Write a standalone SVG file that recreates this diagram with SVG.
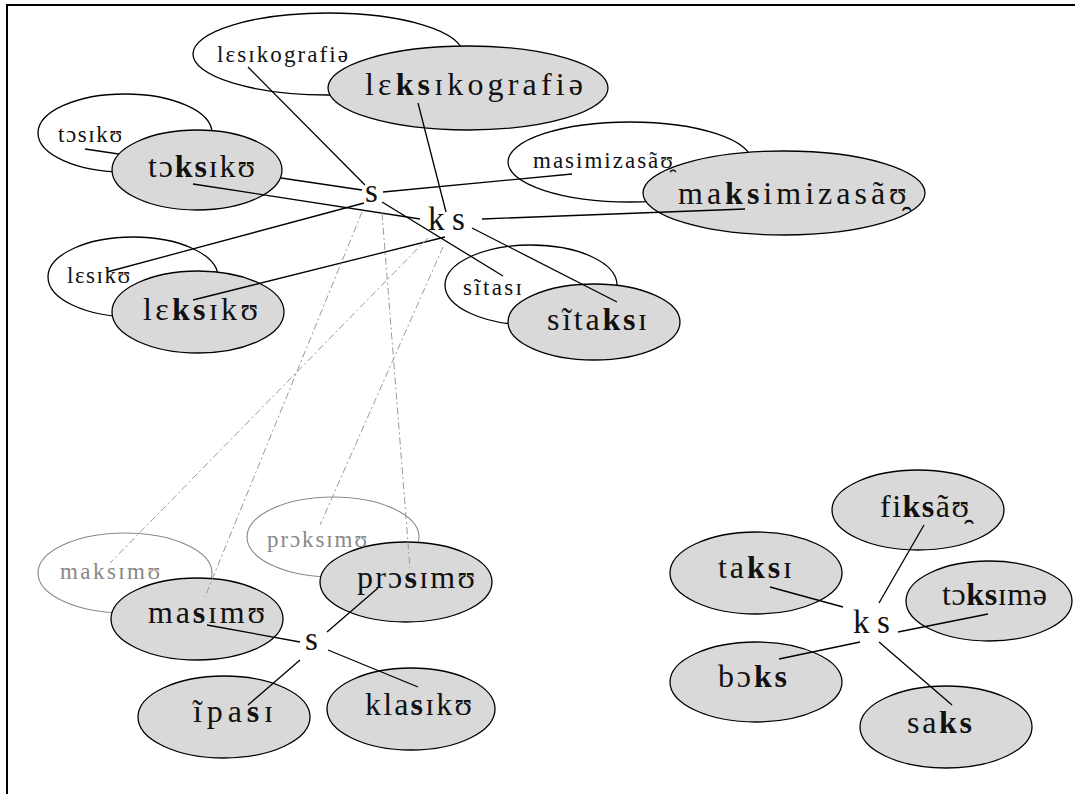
<svg xmlns="http://www.w3.org/2000/svg" width="1075" height="794" viewBox="0 0 1075 794">
  <style>
    text { font-family: "Liberation Serif", "DejaVu Serif", serif; fill: #111; }
    .g { fill: #d9d9d9; stroke: #000; stroke-width: 1.3; }
    .w { fill: #fff; stroke: #000; stroke-width: 1.3; }
    .wg { fill: #fff; stroke: #8a8a8a; stroke-width: 1.1; }
    .big { font-size: 32px; }
    .small { font-size: 23px; }
    .faint { fill: #888; }
    .hub { font-size: 33px; }
    .b { font-weight: bold; }
    .ln { stroke: #000; stroke-width: 1.3; fill: none; }
    .dash { stroke: #999; stroke-width: 1; stroke-dasharray: 7 3 2 3; fill: none; }
    .frame { stroke: #000; stroke-width: 2; fill: none; }
  </style>

  <!-- frame -->
  <path class="frame" d="M7 794 V5 H1075"/>

  <!-- secondary forms (white ellipses) -->
  <g id="n-lesikografie"><ellipse class="w" cx="328" cy="54" rx="135" ry="41"/></g>
  <g id="n-tosiku"><ellipse class="w" cx="125" cy="133" rx="87" ry="39"/></g>
  <g id="n-masimizasau"><ellipse class="w" cx="630" cy="162" rx="122" ry="40"/></g>
  <g id="n-lesiku"><ellipse class="w" cx="133" cy="277" rx="85" ry="40"/></g>
  <g id="n-sitasi"><ellipse class="w" cx="531" cy="285" rx="86" ry="40"/></g>
  <g id="n-maksimu"><ellipse class="wg" cx="125" cy="573" rx="87" ry="40"/></g>
  <g id="n-proksimu"><ellipse class="wg" cx="333" cy="537" rx="86" ry="40"/></g>

  <!-- links from the simplified forms, passing behind the full forms -->
  <g id="connectors-back">
    <line class="ln" x1="248" y1="67" x2="365" y2="185"/>
    <line class="ln" x1="85" y1="149" x2="362" y2="190"/>
    <line class="ln" x1="383" y1="192" x2="572" y2="174"/>
    <line class="ln" x1="107" y1="272" x2="364" y2="203"/>
    <line class="ln" x1="382" y1="202" x2="503" y2="276"/>
  </g>

  <!-- full forms (grey ellipses) -->
  <g id="n-leksikografie"><ellipse class="g" cx="468" cy="88" rx="140" ry="42"/></g>
  <g id="n-toksiku"><ellipse class="g" cx="197" cy="170" rx="85" ry="40"/></g>
  <g id="n-maksimizasau"><ellipse class="g" cx="784" cy="193" rx="141" ry="42"/></g>
  <g id="n-leksiku"><ellipse class="g" cx="198" cy="312" rx="86" ry="41"/></g>
  <g id="n-sitaksi"><ellipse class="g" cx="594" cy="322" rx="86" ry="38"/></g>
  <g id="n-prosimu"><ellipse class="g" cx="406" cy="582" rx="86" ry="40"/></g>
  <g id="n-masimu"><ellipse class="g" cx="197" cy="619" rx="86" ry="41"/></g>
  <g id="n-ipasi"><ellipse class="g" cx="224" cy="717" rx="86" ry="41"/></g>
  <g id="n-klasiku"><ellipse class="g" cx="411" cy="709" rx="84" ry="41"/></g>
  <g id="n-fiksau"><ellipse class="g" cx="918" cy="510" rx="86" ry="40"/></g>
  <g id="n-taksi"><ellipse class="g" cx="756" cy="573" rx="86" ry="41"/></g>
  <g id="n-toksime"><ellipse class="g" cx="989" cy="601" rx="83" ry="40"/></g>
  <g id="n-boks"><ellipse class="g" cx="756" cy="682" rx="86" ry="40"/></g>
  <g id="n-saks"><ellipse class="g" cx="946" cy="727" rx="86" ry="41"/></g>

  <g id="connectors">
    <!-- upper cluster -->
    <line class="ln" x1="418" y1="103" x2="446" y2="212"/>
    <line class="ln" x1="193" y1="184" x2="420" y2="219"/>
    <line class="ln" x1="482" y1="219" x2="745" y2="209"/>
    <line class="ln" x1="193" y1="300" x2="445" y2="237"/>
    <line class="ln" x1="472" y1="228" x2="617" y2="302"/>
    <!-- lower left cluster -->
    <line class="ln" x1="207" y1="625" x2="300" y2="642"/>
    <line class="ln" x1="327" y1="632" x2="378" y2="588"/>
    <line class="ln" x1="300" y1="660" x2="248" y2="705"/>
    <line class="ln" x1="328" y1="650" x2="418" y2="687"/>
    <!-- lower right cluster -->
    <line class="ln" x1="770" y1="587" x2="843" y2="607"/>
    <line class="ln" x1="924" y1="525" x2="879" y2="603"/>
    <line class="ln" x1="988" y1="614" x2="898" y2="632"/>
    <line class="ln" x1="779" y1="659" x2="860" y2="642"/>
    <line class="ln" x1="952" y1="705" x2="879" y2="642"/>
    <!-- dash-dot links between clusters -->
    <line class="dash" x1="428" y1="238" x2="110" y2="563"/>
    <line class="dash" x1="362" y1="212" x2="205" y2="597"/>
    <line class="dash" x1="382" y1="213" x2="410" y2="568"/>
    <line class="dash" x1="443" y1="247" x2="320" y2="525"/>
  </g>

  <!-- hubs -->
  <g id="hub-s-top"><text class="hub" x="365" y="202">s</text></g>
  <g id="hub-ks-top"><text class="hub" x="428" y="230">k<tspan x="452">s</tspan></text></g>
  <g id="hub-s-low"><text class="hub" x="305" y="650">s</text></g>
  <g id="hub-ks-right"><text class="hub" x="853" y="633">k<tspan x="877">s</tspan></text></g>

  <!-- labels -->
  <g id="labels">
    <text class="small" x="217" y="62" textLength="131" lengthAdjust="spacing">lɛsɪkografiə</text>
    <text class="big" x="365" y="95" textLength="218" lengthAdjust="spacing">lɛ<tspan class="b">ks</tspan>ɪkografiə</text>
    <text class="small" x="58" y="142" textLength="64" lengthAdjust="spacing">tɔsɪkʊ</text>
    <text class="big" x="148" y="177" textLength="107" lengthAdjust="spacing">tɔ<tspan class="b">ks</tspan>ɪkʊ</text>
    <text class="small" x="533" y="168" letter-spacing="2">masimizasãʊ̯</text>
    <text class="big" x="678" y="204" letter-spacing="4">ma<tspan class="b">ks</tspan>imizasãʊ̯</text>
    <text class="small" x="67" y="283" textLength="63" lengthAdjust="spacing">lɛsɪkʊ</text>
    <text class="big" x="143" y="320" textLength="115" lengthAdjust="spacing">lɛ<tspan class="b">ks</tspan>ɪkʊ</text>
    <text class="small" x="463" y="295" textLength="59" lengthAdjust="spacing">sĩtasɪ</text>
    <text class="big" x="547" y="330" textLength="100" lengthAdjust="spacing">sĩta<tspan class="b">ks</tspan>ɪ</text>

    <text class="small faint" x="60" y="579" textLength="100" lengthAdjust="spacing">maksɪmʊ</text>
    <text class="small faint" x="267" y="547" textLength="100" lengthAdjust="spacing">prɔksɪmʊ</text>
    <text class="big" x="357" y="588" textLength="118" lengthAdjust="spacing">prɔ<tspan class="b">s</tspan>ɪmʊ</text>
    <text class="big" x="148" y="623" textLength="117" lengthAdjust="spacing">ma<tspan class="b">s</tspan>ɪmʊ</text>
    <text class="big" x="193" y="722" textLength="80" lengthAdjust="spacing">ĩpa<tspan class="b">s</tspan>ɪ</text>
    <text class="big" x="365" y="715" textLength="107" lengthAdjust="spacing">kla<tspan class="b">s</tspan>ɪkʊ</text>

    <text class="big" x="880" y="517" letter-spacing="1.5">fi<tspan class="b">ks</tspan>ãʊ̯</text>
    <text class="big" x="718" y="578" textLength="74" lengthAdjust="spacing">ta<tspan class="b">ks</tspan>ɪ</text>
    <text class="big" x="942" y="605" textLength="105" lengthAdjust="spacing">tɔ<tspan class="b">ks</tspan>ɪmə</text>
    <text class="big" x="718" y="687" textLength="69" lengthAdjust="spacing">bɔ<tspan class="b">ks</tspan></text>
    <text class="big" x="907" y="733" textLength="65" lengthAdjust="spacing">sa<tspan class="b">ks</tspan></text>
  </g>
</svg>
